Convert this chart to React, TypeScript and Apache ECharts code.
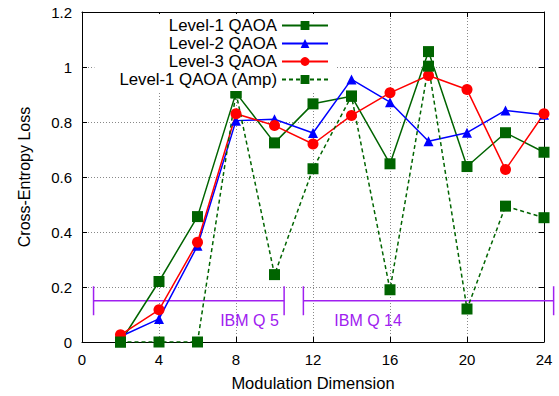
import React, { useEffect, useRef } from "react";
import * as echarts from "echarts";

const xValues = [2, 4, 6, 8, 10, 12, 14, 16, 18, 20, 22, 24];
const level1 = [0.0, 0.22, 0.456, 0.906, 0.724, 0.866, 0.894, 0.648, 1.056, 0.638, 0.761, 0.69];
const level2 = [0.02, 0.084, 0.35, 0.805, 0.81, 0.76, 0.955, 0.872, 0.73, 0.761, 0.842, 0.826];
const level3 = [0.026, 0.117, 0.363, 0.83, 0.787, 0.72, 0.824, 0.906, 0.969, 0.918, 0.627, 0.83];
const level1Amp = [0.0, 0.0, 0.0, 0.906, 0.245, 0.63, 0.894, 0.19, 1.003, 0.12, 0.494, 0.452];

const seriesNames = ["Level-1 QAOA", "Level-2 QAOA", "Level-3 QAOA", "Level-1 QAOA (Amp)"];

const ibmLabels = ["IBM Q 5", "IBM Q 14"];
const ibmStart = [0.6, 11.5];
const ibmEnd = [10.5, 24.5];
const ibmLevel = [0.15, 0.15];
const ibmTextX = [8.7, 14.86];
const ibmTextY = [0.078, 0.078];

const FONT = "'Liberation Sans', Arial, Helvetica, sans-serif";
const PURPLE = "#a020f0";

function pairs(ys: number[]) {
  return xValues.map((x, i) => [x, ys[i]]);
}

export default function App() {
  const ref = useRef<HTMLDivElement>(null);

  useEffect(() => {
    if (!ref.current) return;
    const chart = echarts.init(ref.current, undefined, { renderer: "svg" });

    const lineSeries = (name: string, data: number[], color: string, symbol: string, size: number, dashed = false) => ({
      name,
      type: "line",
      data: pairs(data),
      symbol,
      symbolSize: size,
      showAllSymbol: true,
      itemStyle: { color },
      lineStyle: { color, width: 1.5, type: dashed ? [4, 3] : "solid" },
      z: 3,
    });

    const option: any = {
      animation: false,
      textStyle: { fontFamily: FONT },
      grid: { left: 82, right: 15, top: 12, bottom: 54, containLabel: false },
      legend: {
        data: seriesNames,
        orient: "vertical",
        align: "right",
        right: 222,
        top: 14,
        padding: [3, 8, 3, 24],
        itemGap: 1,
        itemWidth: 46,
        itemHeight: 11,
        backgroundColor: "#ffffff",
        textStyle: { fontSize: 16.8, color: "#000", fontFamily: FONT, lineHeight: 16 },
        selectedMode: false,
      },
      xAxis: [
        {
          type: "value",
          min: 0,
          max: 24,
          interval: 4,
          name: "Modulation Dimension",
          nameLocation: "middle",
          nameGap: 32,
          nameTextStyle: { fontSize: 16.5, color: "#000", fontFamily: FONT },
          axisLine: { show: true, onZero: false, lineStyle: { color: "#000", width: 1 } },
          axisTick: { show: true, inside: true, length: 5, lineStyle: { color: "#000" } },
          axisLabel: { fontSize: 15, color: "#000", margin: 10, fontFamily: FONT },
          splitLine: { show: true, lineStyle: { color: "#888", type: [1, 2], width: 1 } },
        },
        {
          type: "value",
          position: "top",
          min: 0,
          max: 24,
          interval: 4,
          axisLine: { show: true, onZero: false, lineStyle: { color: "#000", width: 1 } },
          axisTick: { show: true, inside: true, length: 5, lineStyle: { color: "#000" } },
          axisLabel: { show: false },
          splitLine: { show: false },
        },
      ],
      yAxis: [
        {
          type: "value",
          min: 0,
          max: 1.2,
          interval: 0.2,
          name: "Cross-Entropy Loss",
          nameLocation: "middle",
          nameGap: 50,
          nameTextStyle: { fontSize: 16, color: "#000", fontFamily: FONT },
          axisLine: { show: true, onZero: false, lineStyle: { color: "#000", width: 1 } },
          axisTick: { show: true, inside: true, length: 5, lineStyle: { color: "#000" } },
          axisLabel: { fontSize: 15, color: "#000", margin: 10, fontFamily: FONT },
          splitLine: { show: true, lineStyle: { color: "#888", type: [1, 2], width: 1 } },
        },
        {
          type: "value",
          position: "right",
          min: 0,
          max: 1.2,
          interval: 0.2,
          axisLine: { show: true, onZero: false, lineStyle: { color: "#000", width: 1 } },
          axisTick: { show: true, inside: true, length: 5, lineStyle: { color: "#000" } },
          axisLabel: { show: false },
          splitLine: { show: false },
        },
      ],
      series: [
        {
          type: "custom",
          name: "ibm",
          clip: false,
          z: 1,
          data: ibmLabels.map((l, i) => [ibmStart[i], ibmEnd[i], ibmLevel[i], ibmTextX[i], ibmTextY[i], l]),
          encode: { x: [0, 1], y: 2 },
          renderItem: (params: any, api: any) => {
            const a = api.coord([api.value(0), api.value(2)]);
            const b = api.coord([api.value(1), api.value(2)]);
            const t = api.coord([api.value(3), api.value(4)]);
            const label = ibmLabels[params.dataIndex];
            const cap = 14.5;
            const ls = { stroke: PURPLE, lineWidth: 1.5 };
            return {
              type: "group",
              children: [
                { type: "line", shape: { x1: a[0], y1: a[1], x2: b[0], y2: b[1] }, style: ls },
                { type: "line", shape: { x1: a[0], y1: a[1] - cap, x2: a[0], y2: a[1] + cap }, style: ls },
                { type: "line", shape: { x1: b[0], y1: b[1] - cap, x2: b[0], y2: b[1] + cap }, style: ls },
                {
                  type: "text",
                  x: t[0],
                  y: t[1],
                  style: {
                    text: label,
                    fill: PURPLE,
                    font: `16px ${FONT}`,
                    align: "center",
                    verticalAlign: "middle",
                  },
                },
              ],
            };
          },
        },
        lineSeries(seriesNames[0], level1, "#006400", "rect", 11),
        lineSeries(seriesNames[1], level2, "#0000ff", "triangle", 10),
        lineSeries(seriesNames[2], level3, "#ff0000", "circle", 11),
        lineSeries(seriesNames[3], level1Amp, "#006400", "rect", 11, true),
      ],
    };

    chart.setOption(option);
    return () => chart.dispose();
  }, []);

  return <div ref={ref} style={{ width: 559, height: 396, position: "absolute", left: 0, top: 0 }} />;
}
